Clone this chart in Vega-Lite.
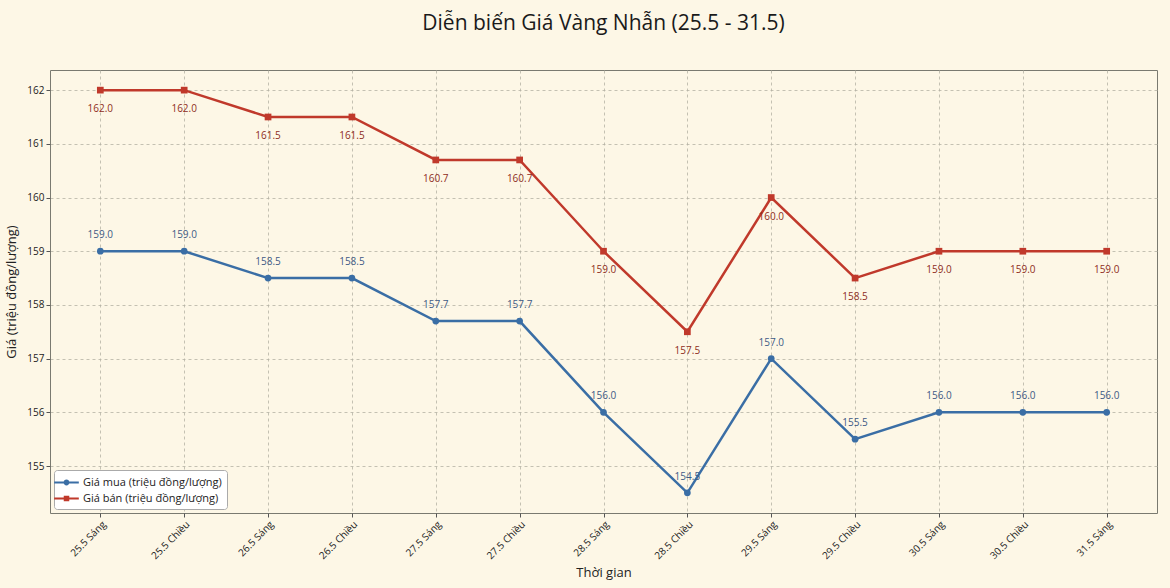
{
  "$schema": "https://vega.github.io/schema/vega-lite/v6.json",
  "autosize": {"type": "none"},
  "width": 1107,
  "height": 443,
  "padding": {"left": 50, "top": 70, "right": 13, "bottom": 75},
  "background": "#fdf7e6",
  "title": {
    "text": "Diễn biến Giá Vàng Nhẫn (25.5 - 31.5)",
    "fontSize": 21, "font": "Open Sans", "fontWeight": "normal", "color": "#1a1a1a",
    "anchor": "middle", "offset": 36
  },
  "config": {
    "font": "Open Sans",
    "view": {"stroke": "#7a7a70", "strokeWidth": 1, "fill": "#fdf7e6"},
    "axis": {
      "labelFont": "Open Sans", "labelFontSize": 10, "labelColor": "#222",
      "titleFont": "Open Sans", "titleFontSize": 13, "titleFontWeight": "normal", "titleColor": "#222",
      "grid": true, "gridColor": "#b5b2a5", "gridDash": [3, 3], "gridWidth": 0.8,
      "domain": false, "tickColor": "#555", "tickSize": 4
    }
  },
  "data": {
    "values": [
      {"thoi_gian": "25.5 Sáng", "loai": "Giá mua (triệu đồng/lượng)", "gia": 159.0},
      {"thoi_gian": "25.5 Chiều", "loai": "Giá mua (triệu đồng/lượng)", "gia": 159.0},
      {"thoi_gian": "26.5 Sáng", "loai": "Giá mua (triệu đồng/lượng)", "gia": 158.5},
      {"thoi_gian": "26.5 Chiều", "loai": "Giá mua (triệu đồng/lượng)", "gia": 158.5},
      {"thoi_gian": "27.5 Sáng", "loai": "Giá mua (triệu đồng/lượng)", "gia": 157.7},
      {"thoi_gian": "27.5 Chiều", "loai": "Giá mua (triệu đồng/lượng)", "gia": 157.7},
      {"thoi_gian": "28.5 Sáng", "loai": "Giá mua (triệu đồng/lượng)", "gia": 156.0},
      {"thoi_gian": "28.5 Chiều", "loai": "Giá mua (triệu đồng/lượng)", "gia": 154.5},
      {"thoi_gian": "29.5 Sáng", "loai": "Giá mua (triệu đồng/lượng)", "gia": 157.0},
      {"thoi_gian": "29.5 Chiều", "loai": "Giá mua (triệu đồng/lượng)", "gia": 155.5},
      {"thoi_gian": "30.5 Sáng", "loai": "Giá mua (triệu đồng/lượng)", "gia": 156.0},
      {"thoi_gian": "30.5 Chiều", "loai": "Giá mua (triệu đồng/lượng)", "gia": 156.0},
      {"thoi_gian": "31.5 Sáng", "loai": "Giá mua (triệu đồng/lượng)", "gia": 156.0},
      {"thoi_gian": "25.5 Sáng", "loai": "Giá bán (triệu đồng/lượng)", "gia": 162.0},
      {"thoi_gian": "25.5 Chiều", "loai": "Giá bán (triệu đồng/lượng)", "gia": 162.0},
      {"thoi_gian": "26.5 Sáng", "loai": "Giá bán (triệu đồng/lượng)", "gia": 161.5},
      {"thoi_gian": "26.5 Chiều", "loai": "Giá bán (triệu đồng/lượng)", "gia": 161.5},
      {"thoi_gian": "27.5 Sáng", "loai": "Giá bán (triệu đồng/lượng)", "gia": 160.7},
      {"thoi_gian": "27.5 Chiều", "loai": "Giá bán (triệu đồng/lượng)", "gia": 160.7},
      {"thoi_gian": "28.5 Sáng", "loai": "Giá bán (triệu đồng/lượng)", "gia": 159.0},
      {"thoi_gian": "28.5 Chiều", "loai": "Giá bán (triệu đồng/lượng)", "gia": 157.5},
      {"thoi_gian": "29.5 Sáng", "loai": "Giá bán (triệu đồng/lượng)", "gia": 160.0},
      {"thoi_gian": "29.5 Chiều", "loai": "Giá bán (triệu đồng/lượng)", "gia": 158.5},
      {"thoi_gian": "30.5 Sáng", "loai": "Giá bán (triệu đồng/lượng)", "gia": 159.0},
      {"thoi_gian": "30.5 Chiều", "loai": "Giá bán (triệu đồng/lượng)", "gia": 159.0},
      {"thoi_gian": "31.5 Sáng", "loai": "Giá bán (triệu đồng/lượng)", "gia": 159.0}
    ]
  },
  "encoding": {
    "x": {
      "field": "thoi_gian", "type": "nominal", "title": "Thời gian",
      "sort": ["25.5 Sáng", "25.5 Chiều", "26.5 Sáng", "26.5 Chiều", "27.5 Sáng", "27.5 Chiều", "28.5 Sáng", "28.5 Chiều", "29.5 Sáng", "29.5 Chiều", "30.5 Sáng", "30.5 Chiều", "31.5 Sáng"],
      "scale": {"type": "point", "padding": 0.6},
      "axis": {"labelAngle": -45, "labelAlign": "right", "labelBaseline": "top", "labelPadding": 2, "titlePadding": 6}
    },
    "y": {
      "field": "gia", "type": "quantitative", "title": "Giá (triệu đồng/lượng)",
      "scale": {"domain": [154.125, 162.375], "nice": false, "zero": false},
      "axis": {"values": [155, 156, 157, 158, 159, 160, 161, 162], "format": "d", "titlePadding": 8}
    },
    "color": {
      "field": "loai", "type": "nominal",
      "scale": {"domain": ["Giá mua (triệu đồng/lượng)", "Giá bán (triệu đồng/lượng)"], "range": ["#3a6ea5", "#c0392b"]},
      "legend": {
        "title": null, "orient": "bottom-left", "offset": 4,
        "labelFont": "Open Sans", "labelFontSize": 11, "labelColor": "#222", "labelOffset": 9,
        "fillColor": "#ffffff", "strokeColor": "#aaaaaa", "cornerRadius": 3, "padding": 5,
        "symbolSize": 210, "symbolStrokeWidth": 0, "rowPadding": 3,
        "encode": {
          "symbols": {
            "update": {
              "shape": {"signal": "datum.value == 'Giá mua (triệu đồng/lượng)' ? 'M-1.7,-0.15H1.7V0.15H-1.7Z M-0.4,0A0.4,0.4 0 1,1 0.4,0A0.4,0.4 0 1,1 -0.4,0Z' : 'M-1.7,-0.15H1.7V0.15H-1.7Z M-0.38,-0.38H0.38V0.38H-0.38Z'"},
              "fill": {"scale": "color", "field": "value"},
              "strokeWidth": {"value": 0}
            }
          }
        }
      }
    }
  },
  "layer": [
    {
      "mark": {"type": "line", "strokeWidth": 2.5}
    },
    {
      "transform": [{"filter": "datum.loai == 'Giá mua (triệu đồng/lượng)'"}],
      "mark": {"type": "point", "filled": true, "opacity": 1, "shape": "circle", "size": 45}
    },
    {
      "transform": [{"filter": "datum.loai == 'Giá bán (triệu đồng/lượng)'"}],
      "mark": {"type": "point", "filled": true, "opacity": 1, "shape": "square", "size": 45}
    },
    {
      "transform": [{"filter": "datum.loai == 'Giá mua (triệu đồng/lượng)'"}],
      "mark": {"type": "text", "dy": -16, "fontSize": 10, "font": "Open Sans"},
      "encoding": {"color": {"value": "#3d5a85"}, "text": {"field": "gia", "type": "quantitative", "format": ".1f"}}
    },
    {
      "transform": [{"filter": "datum.loai == 'Giá bán (triệu đồng/lượng)'"}],
      "mark": {"type": "text", "dy": 19, "fontSize": 10, "font": "Open Sans"},
      "encoding": {"color": {"value": "#8e2d22"}, "text": {"field": "gia", "type": "quantitative", "format": ".1f"}}
    }
  ]
}
